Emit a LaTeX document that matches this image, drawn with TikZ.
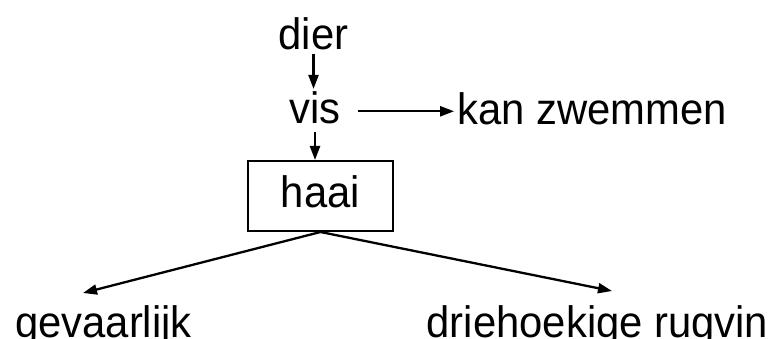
\documentclass[tikz,border=0pt]{standalone}
\usepackage{fontspec}
\setmainfont{Liberation Sans}[FakeStretch=0.95]
\usetikzlibrary{arrows.meta}

\tikzset{
  word/.style={inner sep=3pt, anchor=base, font=\fontsize{44}{52}\selectfont},
  link/.style={-{Triangle[length=14pt,width=10pt]}, line width=2.3pt},
}

\begin{document}
\begin{tikzpicture}[x=1pt,y=-1pt]
\useasboundingbox (0,0) rectangle (775,339);

\node[word] (dier) at (313.5,50) {dier};
\node[word] (vis) at (315,124) {vis};
\node[word] (zwem) at (592,125) {kan zwemmen};

\node[word, anchor=center, draw, line width=2pt, minimum width=145pt, minimum height=70pt, text depth=8pt] (haai) at (320.5,196) {haai};

\node[word] (gev) at (103.5,337) {gevaarlijk};
\node[word] (rug) at (597.5,337) {driehoekige rugvin};

\coordinate (visout) at ([yshift=-3pt]vis.east);
\coordinate (gevtip) at (83,293);
\coordinate (rugtip) at (612,291);

\draw[link] (dier.south) -- (dier.south |- vis.north);
\draw[link, shorten <=4pt] (vis.south) -- (vis.south |- haai.north);
\draw[link, shorten <=14pt] (visout) -- (visout -| zwem.west);

\draw[link] (haai.south) -- (gevtip);
\draw[link] (haai.south) -- (rugtip);

\end{tikzpicture}
\end{document}
